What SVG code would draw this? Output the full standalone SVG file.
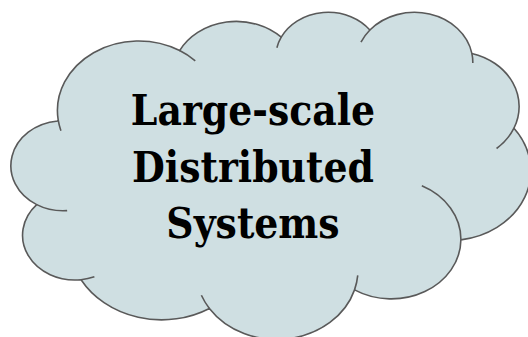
<svg xmlns="http://www.w3.org/2000/svg" width="528" height="337" viewBox="0 0 528 337">
  <style>
    .cloud { fill: #cfdfe2; stroke: #595959; stroke-width: 1.6; vector-effect: non-scaling-stroke; stroke-linejoin: round; }
    .inner { fill: none; stroke: #595959; stroke-width: 1.6; vector-effect: non-scaling-stroke; stroke-linecap: butt; }
    .label { font-family: "DejaVu Serif Condensed", "DejaVu Serif", "Liberation Serif", serif; font-stretch: condensed; font-weight: bold; font-size: 42px; fill: #000000; text-anchor: middle; }
  </style>
  <rect width="528" height="337" fill="#ffffff"/>
  <g id="cloud">
    <g transform="translate(11.3,11.2) scale(0.01202,0.00757)">
      <path class="cloud" d="M 3900 14370 A 6753 9190 0 0 1 14005 5202 A 5333 7267 0 0 1 22456 3432 A 4365 5945 0 0 1 29833 2481 A 4857 6595 0 0 1 38318 5576 A 5333 7273 0 0 1 41818 15460 A 6775 9220 0 0 1 37404 30203 A 5785 7867 0 0 1 28556 36813 A 6752 9215 0 0 1 16480 39264 A 7720 10543 0 0 1 5805 35470 A 4360 5918 0 0 1 2113 25548 A 4345 5945 0 0 1 3863 14504 Z"/>
      <path class="inner" d="M 4646 26345 A 4345 5945 0 0 1 2113 25548 M 6913 35089 A 4360 5918 0 0 1 5805 35470 M 16480 39264 A 6752 9215 0 0 1 15813 37524 M 28823 34904 A 6752 9215 0 0 1 28556 36813 M 34153 23068 A 5785 7867 0 0 1 37404 30203 M 41818 15460 A 5333 7273 0 0 1 40371 18135 M 38318 5576 A 4857 6595 0 0 1 38395 6840 M 29091 4093 A 4857 6595 0 0 1 29833 2481 M 22097 4822 A 4365 5945 0 0 1 22456 3432 M 14005 5202 A 6753 9190 0 0 1 15305 6550 M 4127 15789 A 6753 9190 0 0 1 3900 14370"/>
    </g>
    <text class="label" x="253" y="125">Large-scale</text>
    <text class="label" x="253" y="182">Distributed</text>
    <text class="label" x="253" y="238">Systems</text>
  </g>
</svg>
